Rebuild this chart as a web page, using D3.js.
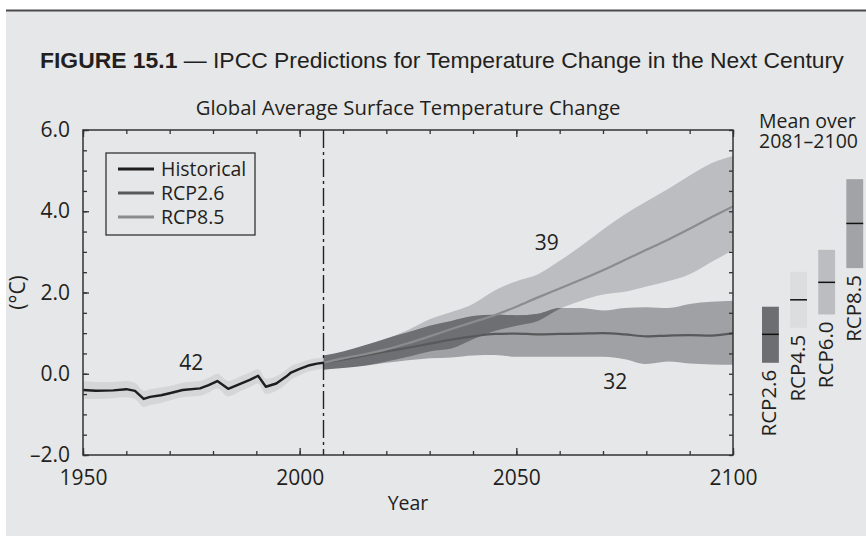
<!DOCTYPE html>
<html>
<head>
<meta charset="utf-8">
<script src="https://cdn.jsdelivr.net/npm/d3@7/dist/d3.min.js"></script>
<style>
  body { margin: 0; background: #fff; }
  text { font-family: "Open Sans", sans-serif; fill: #231f20; }
</style>
</head>
<body>
<div class="chart"></div>
<script>
// ---- data ----
const histYears = [1950, 1953, 1957, 1960, 1962, 1964, 1965.5, 1968, 1970, 1973, 1977, 1979, 1981, 1983.5, 1986, 1988.5, 1990.4, 1992.2, 1994.6, 1996.9, 1998, 2000, 2002.3, 2004, 2005.5];
const histMean  = [-0.40, -0.42, -0.41, -0.38, -0.42, -0.62, -0.57, -0.53, -0.48, -0.40, -0.36, -0.28, -0.18, -0.37, -0.26, -0.15, -0.05, -0.32, -0.24, -0.07, 0.03, 0.12, 0.21, 0.25, 0.27];
const histUpper = [-0.18, -0.20, -0.20, -0.18, -0.22, -0.42, -0.38, -0.34, -0.30, -0.22, -0.18, -0.10, 0.00, -0.18, -0.08, 0.03, 0.12, -0.12, -0.06, 0.10, 0.19, 0.27, 0.35, 0.38, 0.40];
const histLower = [-0.62, -0.62, -0.60, -0.58, -0.62, -0.82, -0.77, -0.72, -0.66, -0.58, -0.54, -0.46, -0.36, -0.56, -0.44, -0.33, -0.24, -0.50, -0.42, -0.25, -0.14, -0.04, 0.06, 0.10, 0.13];

const projYears  = [2005.5, 2010, 2015, 2020, 2025, 2030, 2035, 2040, 2045, 2050, 2055, 2060, 2065, 2070, 2075, 2080, 2085, 2090, 2095, 2100];
const rcp26Mean  = [0.27, 0.35, 0.45, 0.55, 0.64, 0.74, 0.84, 0.92, 0.98, 0.99, 0.97, 0.98, 0.99, 1.00, 0.97, 0.92, 0.94, 0.95, 0.94, 1.00];
const rcp26Upper = [0.45, 0.55, 0.70, 0.87, 1.02, 1.18, 1.30, 1.42, 1.45, 1.44, 1.48, 1.62, 1.62, 1.56, 1.62, 1.64, 1.62, 1.72, 1.77, 1.80];
const rcp26Lower = [0.10, 0.14, 0.20, 0.27, 0.33, 0.38, 0.40, 0.45, 0.46, 0.42, 0.42, 0.42, 0.42, 0.42, 0.36, 0.24, 0.30, 0.25, 0.23, 0.22];
const rcp85Mean  = [0.27, 0.38, 0.48, 0.60, 0.75, 0.92, 1.10, 1.27, 1.44, 1.65, 1.88, 2.10, 2.32, 2.55, 2.80, 3.05, 3.30, 3.57, 3.85, 4.12];
const rcp85Upper = [0.45, 0.55, 0.70, 0.87, 1.08, 1.34, 1.52, 1.72, 2.05, 2.28, 2.45, 2.78, 3.15, 3.55, 3.92, 4.24, 4.55, 4.88, 5.18, 5.36];
const rcp85Lower = [0.10, 0.14, 0.20, 0.30, 0.42, 0.55, 0.62, 0.85, 1.05, 1.18, 1.30, 1.60, 1.80, 1.95, 2.02, 2.15, 2.28, 2.45, 2.75, 3.04];

const barNames = ["RCP2.6", "RCP4.5", "RCP6.0", "RCP8.5"];
const barLow   = [0.27, 1.13, 1.46, 2.60];
const barMean  = [0.97, 1.82, 2.25, 3.70];
const barHigh  = [1.65, 2.51, 3.05, 4.79];
const barColors = ["#6d6e71", "#dcdddf", "#bcbdc0", "#a2a3a6"];

const legendNames  = ["Historical", "RCP2.6", "RCP8.5"];
const legendColors = ["#1e1e1e", "#58595b", "#8b8c8e"];

const xMajorTicks = [1950, 2000, 2050, 2100];
const yMajorTicks = [-2, 0, 2, 4, 6];
const modelCounts = [{ label: "42", year: 1975, value: 0.28 },
                     { label: "39", year: 2057, value: 3.22 },
                     { label: "32", year: 2072.8, value: -0.2 }];

// ---- setup ----
const W = 866, H = 536;
const margin = { top: 130, right: 133, bottom: 81, left: 83 };
const width = W - margin.left - margin.right,
    height = H - margin.top - margin.bottom;

const svg = d3.select(".chart").append("svg")
    .attr("width", W)
    .attr("height", H);

svg.append("rect").attr("width", W).attr("height", H).attr("fill", "#fff");
svg.append("rect")
    .attr("x", 6).attr("y", 11)
    .attr("width", W - 6).attr("height", H - 11)
    .attr("fill", "#e6e7e8");
svg.append("line")
    .attr("x1", 6).attr("x2", W)
    .attr("y1", 10.5).attr("y2", 10.5)
    .attr("stroke", "#4a4a4c").attr("stroke-width", 2);

// title
const title = svg.append("text")
    .attr("x", 40).attr("y", 68)
    .attr("font-size", 22.9)
    .style("font-family", "'Liberation Sans', Arial, sans-serif");
title.append("tspan").attr("font-weight", "bold").text("FIGURE 15.1");
title.append("tspan").text(" \u2014 IPCC Predictions for Temperature Change in the Next Century");

const g = svg.append("g")
    .attr("transform", `translate(${margin.left},${margin.top})`);

const xScale = d3.scaleLinear().domain([1950, 2100]).range([0, width]);
const yScale = d3.scaleLinear().domain([-2, 6]).range([height, 0]);

g.append("text")
    .attr("x", xScale(2025)).attr("y", -15)
    .attr("text-anchor", "middle")
    .attr("font-size", 20.3)
    .text("Global Average Surface Temperature Change");

// ---- bands ----
const hist = histYears.map((d, i) => ({ x: d, m: histMean[i], hi: histUpper[i], lo: histLower[i] }));
const r26 = projYears.map((d, i) => ({ x: d, m: rcp26Mean[i], hi: rcp26Upper[i], lo: rcp26Lower[i] }));
const r85 = projYears.map((d, i) => ({ x: d, m: rcp85Mean[i], hi: rcp85Upper[i], lo: rcp85Lower[i] }));

const band = curve => d3.area()
    .curve(curve)
    .x(d => xScale(d.x))
    .y0(d => yScale(d.lo))
    .y1(d => yScale(d.hi));
const line = curve => d3.line()
    .curve(curve)
    .x(d => xScale(d.x))
    .y(d => yScale(d.m));

g.append("path").datum(hist).attr("fill", "#d5d6d8").attr("d", band(d3.curveMonotoneX));

g.append("path").datum(r85).attr("fill", "#bcbdc0").attr("d", band(d3.curveMonotoneX));
g.append("path").datum(r26).attr("fill", "#a0a1a4").attr("d", band(d3.curveMonotoneX));

// overlap of the two ranges drawn darker
g.append("clipPath").attr("id", "clip85")
    .append("path").datum(r85).attr("d", band(d3.curveMonotoneX));
g.append("path").datum(r26)
    .attr("fill", "#6e6f72")
    .attr("clip-path", "url(#clip85)")
    .attr("d", band(d3.curveMonotoneX));

g.append("path").datum(r26)
    .attr("fill", "none").attr("stroke", legendColors[1]).attr("stroke-width", 2.2)
    .attr("d", line(d3.curveMonotoneX));
g.append("path").datum(r85)
    .attr("fill", "none").attr("stroke", legendColors[2]).attr("stroke-width", 2.2)
    .attr("d", line(d3.curveMonotoneX));
g.append("path").datum(hist)
    .attr("fill", "none").attr("stroke", legendColors[0]).attr("stroke-width", 2.4)
    .attr("stroke-linejoin", "round")
    .attr("d", line(d3.curveLinear));

// 2005 dash-dot divider
g.append("line")
    .attr("x1", xScale(2005.5)).attr("x2", xScale(2005.5))
    .attr("y1", 0).attr("y2", height)
    .attr("stroke", "#222").attr("stroke-width", 1.4)
    .attr("stroke-dasharray", "18,4,3,4");

// model counts
g.selectAll(".count")
    .data(modelCounts)
    .join("text")
    .attr("class", "count")
    .attr("x", d => xScale(d.year))
    .attr("y", d => yScale(d.value))
    .attr("text-anchor", "middle")
    .attr("dy", "0.35em")
    .attr("font-size", 21)
    .text(d => d.label);

// ---- axes ----
const fmt = d => (d < 0 ? "\u2013" : "") + Math.abs(d).toFixed(1);
const styleAxis = sel => {
    sel.select(".domain").remove();
    sel.selectAll(".tick line").attr("stroke", "#333").attr("stroke-width", 1.3);
    sel.attr("font-size", 21);
};

g.append("g").attr("transform", `translate(0,${height})`)
    .call(d3.axisBottom(xScale).tickValues(d3.range(1950, 2101, 10)).tickSize(-4).tickFormat(""))
    .call(styleAxis);
g.append("g").attr("transform", `translate(0,${height})`)
    .call(d3.axisBottom(xScale).tickValues(xMajorTicks).tickSize(-7).tickPadding(15).tickFormat(d3.format("d")))
    .call(styleAxis);
g.append("g")
    .call(d3.axisTop(xScale).tickValues(d3.range(1950, 2101, 10)).tickSize(-4).tickFormat(""))
    .call(styleAxis);
g.append("g")
    .call(d3.axisTop(xScale).tickValues(xMajorTicks).tickSize(-7).tickFormat(""))
    .call(styleAxis);

g.append("g")
    .call(d3.axisLeft(yScale).tickValues(d3.range(-2, 6.01, 0.5)).tickSize(-4).tickFormat(""))
    .call(styleAxis);
g.append("g")
    .call(d3.axisLeft(yScale).tickValues(yMajorTicks).tickSize(-6).tickPadding(13).tickFormat(fmt))
    .call(styleAxis);
g.append("g").attr("transform", `translate(${width},0)`)
    .call(d3.axisRight(yScale).tickValues(d3.range(-2, 6.01, 0.5)).tickSize(-4).tickFormat(""))
    .call(styleAxis);

g.append("rect")
    .attr("width", width).attr("height", height)
    .attr("fill", "none").attr("stroke", "#333").attr("stroke-width", 1.5);

g.append("text")
    .attr("x", xScale(2025)).attr("y", height + 55)
    .attr("text-anchor", "middle")
    .attr("font-size", 19.5)
    .text("Year");

g.append("text")
    .attr("transform", `translate(-58,${yScale(2.0)}) rotate(-90)`)
    .attr("text-anchor", "middle")
    .attr("font-size", 21)
    .text("(\u00b0C)");

// ---- legend ----
const legend = g.append("g").attr("transform", "translate(23,23)");
legend.append("rect")
    .attr("width", 149).attr("height", 82)
    .attr("fill", "none").attr("stroke", "#333").attr("stroke-width", 1.3);
const item = legend.selectAll(".item")
    .data(legendNames)
    .join("g")
    .attr("class", "item")
    .attr("transform", (d, i) => `translate(0,${16 + i * 24})`);
item.append("line")
    .attr("x1", 12).attr("x2", 48)
    .attr("stroke", (d, i) => legendColors[i]).attr("stroke-width", 3);
item.append("text")
    .attr("x", 55).attr("dy", "0.36em")
    .attr("font-size", 19.5)
    .text(d => d);

// ---- 2081-2100 mean bars ----
svg.append("text").attr("x", 759).attr("y", 128).attr("font-size", 19.5).text("Mean over");
svg.append("text").attr("x", 759).attr("y", 148).attr("font-size", 19.5).text("2081\u20132100");

const xBar = d3.scaleBand().domain(barNames).range([762, 863.2]).paddingInner(0.4);
const yBar = d3.scaleLinear().domain([-2, 6]).range([margin.top + height, margin.top]);

const bars = svg.selectAll(".bar")
    .data(barNames)
    .join("g")
    .attr("class", "bar");
bars.append("rect")
    .attr("x", d => xBar(d))
    .attr("width", xBar.bandwidth())
    .attr("y", (d, i) => yBar(barHigh[i]))
    .attr("height", (d, i) => yBar(barLow[i]) - yBar(barHigh[i]))
    .attr("fill", (d, i) => barColors[i]);
bars.append("line")
    .attr("x1", d => xBar(d))
    .attr("x2", d => xBar(d) + xBar.bandwidth())
    .attr("y1", (d, i) => yBar(barMean[i]))
    .attr("y2", (d, i) => yBar(barMean[i]))
    .attr("stroke", "#111").attr("stroke-width", 1.5);
bars.append("text")
    .attr("transform", (d, i) => `translate(${xBar(d) + xBar.bandwidth() / 2 + 6},${yBar(barLow[i]) + 7}) rotate(-90)`)
    .attr("text-anchor", "end")
    .attr("font-size", 20.5)
    .text(d => d);
</script>
</body>
</html>
